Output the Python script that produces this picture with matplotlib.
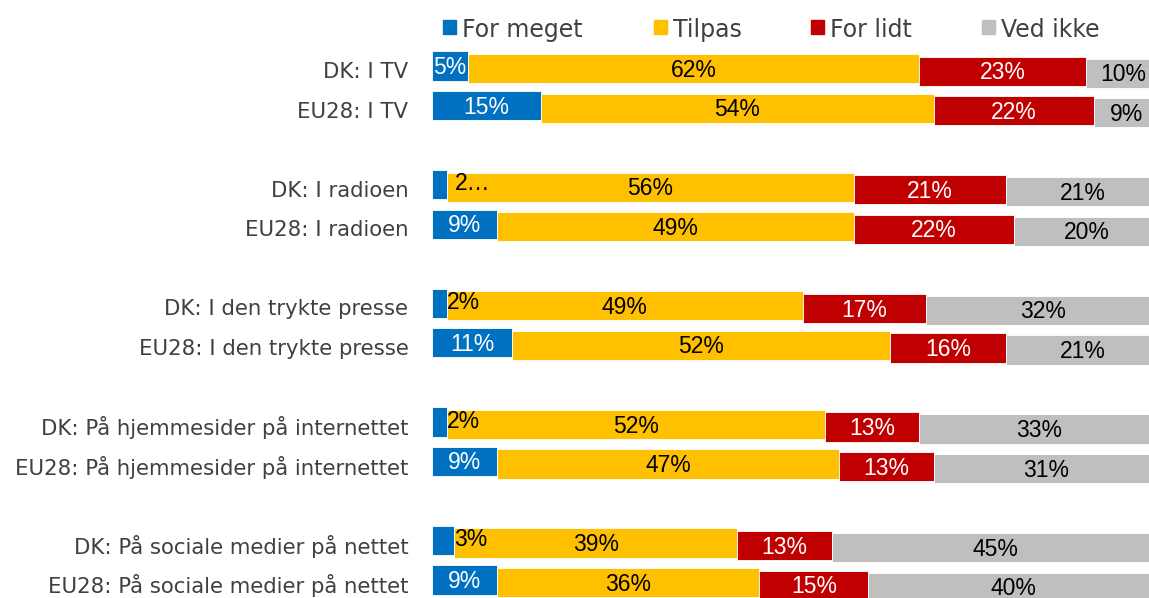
import numpy as np
import matplotlib.pyplot as plt

# categories, top to bottom
categories = ['DK: I TV', 'EU28: I TV',
              'DK: I radioen', 'EU28: I radioen',
              'DK: I den trykte presse', 'EU28: I den trykte presse',
              'DK: På hjemmesider på internettet', 'EU28: På hjemmesider på internettet',
              'DK: På sociale medier på nettet', 'EU28: På sociale medier på nettet']
positions = [0, 1, 3, 4, 6, 7, 9, 10, 12, 13]

series = ['For meget', 'Tilpas', 'For lidt', 'Ved ikke']
for_meget = [5, 15, 2, 9, 2, 11, 2, 9, 3, 9]
tilpas = [62, 54, 56, 49, 49, 52, 52, 47, 39, 36]
for_lidt = [23, 22, 21, 22, 17, 16, 13, 13, 13, 15]
ved_ikke = [10, 9, 21, 20, 32, 21, 33, 31, 45, 40]

colors = ['#0070C0', '#FFC000', '#C00000', '#BFBFBF']
text_colors = ['white', 'black', 'white', 'black']
# small vertical shift of each series, as in the original rendering
shifts = [0.0, 0.065, 0.13, 0.18]

fig = plt.figure(figsize=(11.49, 5.98), dpi=100)
ax = fig.add_axes([432 / 1149, 0, 1 - 432 / 1149, 558 / 598])

data = [for_meget, tilpas, for_lidt, ved_ikke]
y = np.array(positions, dtype=float)
left = np.zeros(len(categories))
label_font = ['Liberation Sans Narrow', 'Liberation Sans', 'DejaVu Sans']
for i, vals in enumerate(data):
    vals = np.array(vals, dtype=float)
    ax.barh(y + shifts[i], vals, left=left, height=0.74, color=colors[i],
            edgecolor='white', linewidth=0.6)
    for j, v in enumerate(vals):
        yc = y[j] + shifts[i] + 0.04
        if i == 0 and v <= 3:
            # small segments: label sits just right of the bar
            txt = '2…' if (j == 2) else '%d%%' % v
            pad = 1.2 if j == 2 else 0.0
            ax.text(left[j] + v + pad, yc - 0.06, txt, ha='left', va='center',
                    color='black', fontsize=16.5, family=label_font)
        else:
            ax.text(left[j] + v / 2, yc, '%d%%' % v, ha='center', va='center',
                    color=text_colors[i], fontsize=16.5, family=label_font)
    left += vals

ax.set_xlim(0, 98.6)
ax.set_ylim(13.455, -0.66)
ax.set_yticks(y + 0.1)
ax.set_yticklabels(categories, fontsize=15.3, color='#404040', family='DejaVu Sans')
ax.tick_params(axis='y', length=0, pad=17)
ax.set_xticks([])
for s in ax.spines.values():
    s.set_visible(False)

# legend
leg_x = [443, 654, 811, 982]
for i, name in enumerate(series):
    fig.patches.append(plt.Rectangle((leg_x[i] / 1149, 1 - 34 / 598), 13 / 1149, 14 / 598,
                                     transform=fig.transFigure, color=colors[i]))
    fig.text((leg_x[i] + 19) / 1149, 1 - 37 / 598, name, ha='left', va='baseline',
             fontsize=17, color='#404040', family='DejaVu Sans')

fig.savefig('out.png', dpi=100)
